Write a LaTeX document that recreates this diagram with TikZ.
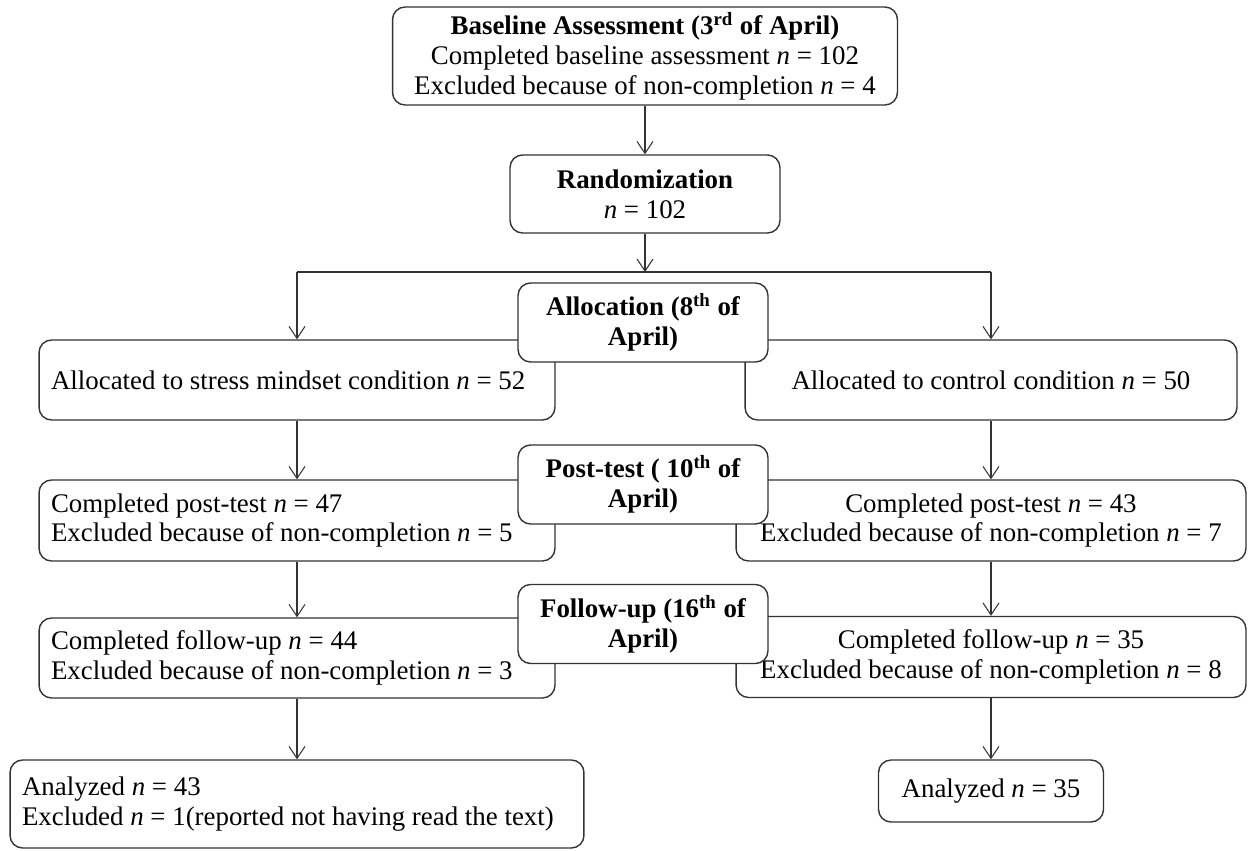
\documentclass[tikz,border=0pt]{standalone}
\usepackage{fontspec}
\setmainfont{Liberation Serif}
\usetikzlibrary{arrows.meta, positioning}

\begin{document}
\begin{tikzpicture}[x=0.02cm, y=-0.02cm]
\tikzstyle{block} = [rectangle, draw=black!80, line width=0.8pt, fill=white, rounded corners=0.25cm, inner xsep=0.3cm, inner ysep=0pt, font=\fontsize{15.3}{17}\selectfont, align=center]
\tikzstyle{leftbox} = [block, inner xsep=0.24cm, text width=9.84cm, align=flush left, minimum height=1.6cm]
\tikzstyle{rightbox} = [block, minimum width=10.2cm, minimum height=1.62cm]
\tikzstyle{phase} = [block, font=\fontsize{15.3}{17}\selectfont\bfseries, minimum width=5cm, minimum height=1.58cm]
\tikzstyle{line} = [draw=black!80, line width=0.6pt, -{Straight Barb[length=2.4mm, width=3.2mm]}]

\useasboundingbox (0,0) rectangle (1248,851);

\node [block, minimum width=10.1cm, minimum height=1.96cm] (base) at (645,56) {\textbf{Baseline Assessment (3\textsuperscript{rd} of April)}\\ Completed baseline assessment \textit{n} = 102\\ Excluded because of non-completion \textit{n} = 4};
\node [block, minimum width=5.4cm, minimum height=1.56cm] (rand) at (645,194) {\textbf{Randomization}\\ \textit{n} = 102};

\coordinate (split) at (645,272);
\coordinate (splitL) at (297,272);
\coordinate (splitR) at (991,272);

\node [leftbox] (stress) at (297,380) {Allocated to stress mindset condition \textit{n} = 52};
\node [block, minimum width=9.84cm, minimum height=1.6cm] (control) at (991,380) {Allocated to control condition \textit{n} = 50};

\node [leftbox, minimum height=1.62cm] (postL) at (297,520.5) {Completed post-test \textit{n} = 47\\ Excluded because of non-completion \textit{n} = 5};
\node [rightbox] (postR) at (991,520.5) {Completed post-test \textit{n} = 43\\ Excluded because of non-completion \textit{n} = 7};

\node [leftbox] (followL) at (297,658) {Completed follow-up \textit{n} = 44\\ Excluded because of non-completion \textit{n} = 3};
\node [rightbox] (followR) at (991,657) {Completed follow-up \textit{n} = 35\\ Excluded because of non-completion \textit{n} = 8};

\node [leftbox, text width=11.0cm, minimum height=1.76cm] (anL) at (297,804) {Analyzed \textit{n} = 43\\ Excluded \textit{n} = 1(reported not having read the text)};
\node [block, minimum width=4.5cm, minimum height=1.24cm] (anR) at (991,791) {Analyzed \textit{n} = 35};

\node [phase] (alloc) at (643,322.5) {Allocation (8\textsuperscript{th} of\\ April)};
\node [phase] (post) at (643,484.5) {Post-test ( 10\textsuperscript{th} of\\ April)};
\node [phase] (follow) at (643,624) {Follow-up (16\textsuperscript{th} of\\ April)};

\path [line] (base) -- (rand);
\path [line] (rand) -- (split);
\draw [draw=black!80, line width=0.6pt] (splitL) -- (splitR);
\path [line] (splitL) -- (stress);
\path [line] (splitR) -- (control);
\path [line] (stress) -- (postL);
\path [line] (control) -- (postR);
\path [line] (postL) -- (followL);
\path [line] (postR) -- (followR);
\path [line] (followL) -- (anL);
\path [line] (followR) -- (anR);
\end{tikzpicture}
\end{document}
